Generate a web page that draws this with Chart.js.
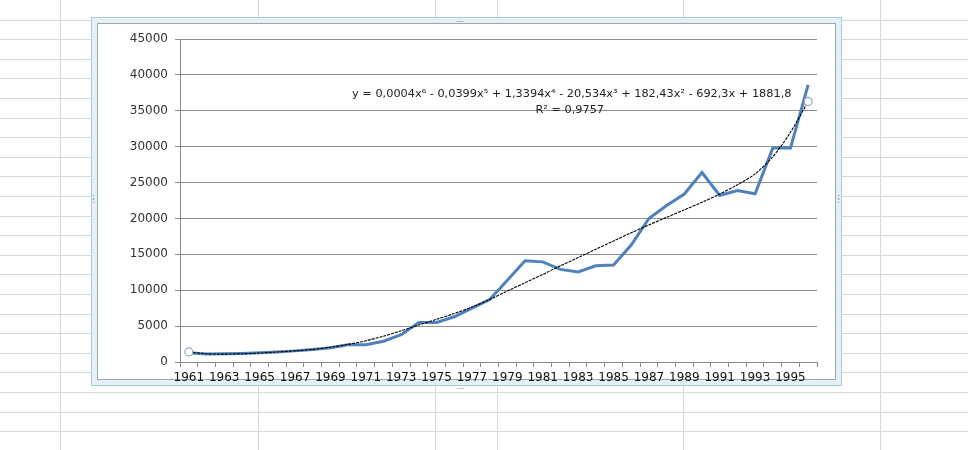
<!DOCTYPE html>
<html>
<head>
<meta charset="utf-8">
<title>1961-1996</title>
<script src="https://cdn.jsdelivr.net/npm/chart.js@4.4.1/dist/chart.umd.min.js"></script>
<style>
    html, body { margin: 0; padding: 0; }
    body { width: 968px; height: 450px; position: relative; overflow: hidden; background: #fff; }
    /* worksheet cells behind the chart */
    #sheet {
        position: absolute; left: 0; top: 0; width: 968px; height: 450px;
        background-image: repeating-linear-gradient(to bottom, transparent 0px, transparent 18.6px, #d4d9df 18.6px, #d4d9df 19.6px);
        background-position: 0 1px;
    }
    .vline { position: absolute; top: 0; width: 1px; height: 450px; background: #d4d9df; }
    #frame {
        position: absolute; left: 91px; top: 17px; width: 749px; height: 367px;
        border: 1px solid #a9cad6;
        box-shadow: inset 0 0 0 5px #e3f1f5, inset 0 0 0 6px #9aaab2;
        background: #fff;
    }
    .grip { position: absolute; font: 9px "DejaVu Sans", sans-serif; color: #7f9aa5; line-height: 6px; letter-spacing: -1px; }
    #chart { position: absolute; left: 0; top: 0; }
</style>
</head>
<body>
<div id="sheet"></div>
<div class="vline" style="left:60px"></div>
<div class="vline" style="left:258px"></div>
<div class="vline" style="left:435px"></div>
<div class="vline" style="left:497px"></div>
<div class="vline" style="left:683px"></div>
<div class="vline" style="left:880px"></div>
<div id="frame"></div>
<div class="grip" style="left:456px;top:16px">....</div>
<div class="grip" style="left:456px;top:383px">....</div>
<div class="grip" style="left:92px;top:196px;width:4px;line-height:3px">:<br>:</div>
<div class="grip" style="left:837px;top:196px;width:4px;line-height:3px">:<br>:</div>
<canvas id="chart" width="968" height="450"></canvas>
<script>
// years on the category axis
const years = ['1961', '1962', '1963', '1964', '1965', '1966', '1967', '1968', '1969', '1970',
    '1971', '1972', '1973', '1974', '1975', '1976', '1977', '1978', '1979', '1980',
    '1981', '1982', '1983', '1984', '1985', '1986', '1987', '1988', '1989', '1990',
    '1991', '1992', '1993', '1994', '1995', '1996'];

// yearly values (blue line)
const values = [1300, 1100, 1150, 1200, 1300, 1400, 1550, 1750, 2000, 2400,
    2400, 2900, 3800, 5500, 5500, 6300, 7500, 8700, 11400, 14100,
    13950, 12900, 12550, 13400, 13500, 16300, 20000, 21800, 23400, 26400,
    23200, 23900, 23450, 29800, 29800, 38600];

// 6th order polynomial trend (thin black line)
const trend = [1400, 1150, 1100, 1150, 1250, 1400, 1550, 1750, 2050, 2450,
    2950, 3600, 4350, 5150, 5950, 6750, 7650, 8700, 9900, 11050,
    12200, 13400, 14550, 15700, 16850, 18000, 19100, 20150, 21200, 22250,
    23400, 24700, 26200, 28600, 32000, 36300];

const yTicks = [0, 5000, 10000, 15000, 20000, 25000, 30000, 35000, 40000, 45000];

const trendLabel = 'y = 0,0004x\u2076 - 0,0399x\u2075 + 1,3394x\u2074 - 20,534x\u00b3 + 182,43x\u00b2 - 692,3x + 1881,8';
const r2Label = 'R\u00b2 = 0,9757';

// end handles of the trend line
const handleRadius = trend.map((v, i) => (i === 0 || i === trend.length - 1) ? 4 : 0);

// equation text next to the trend line
const trendText = {
    id: 'trendText',
    afterDatasetsDraw(chart) {
        const ctx = chart.ctx;
        const area = chart.chartArea;
        const x = area.left + (area.right - area.left) * 0.615;
        ctx.save();
        ctx.fillStyle = '#222';
        ctx.font = '11.3px "DejaVu Sans", sans-serif';
        ctx.textAlign = 'center';
        ctx.textBaseline = 'middle';
        ctx.fillText(trendLabel, x, area.top + 55);
        ctx.fillText(r2Label, x - 2, area.top + 71);
        ctx.restore();
    }
};

new Chart(document.getElementById('chart'), {
    type: 'line',
    data: {
        labels: years,
        datasets: [
            {
                label: 'trend',
                data: trend,
                borderColor: '#000000',
                borderWidth: 1.1,
                borderDash: [3, 1],
                pointRadius: handleRadius,
                pointBackgroundColor: '#ffffff',
                pointBorderColor: '#8fa6bb',
                pointBorderWidth: 1.2,
                tension: 0.3,
                fill: false
            },
            {
                label: 'values',
                data: values,
                borderColor: '#4f81bd',
                borderWidth: 3,
                pointRadius: 0,
                tension: 0,
                fill: false
            }
        ]
    },
    options: {
        responsive: false,
        animation: false,
        devicePixelRatio: 1,
        layout: { padding: { left: 100, top: 39, right: 151, bottom: 60 } },
        plugins: {
            legend: { display: false },
            tooltip: { enabled: false }
        },
        scales: {
            x: {
                offset: true,
                afterFit: function(scale) { scale.height = 28; },
                grid: {
                    offset: true,
                    drawOnChartArea: false,
                    drawTicks: true,
                    tickLength: 5,
                    color: '#8a8a8a'
                },
                border: { display: true, color: '#8a8a8a' },
                ticks: {
                    autoSkip: false,
                    maxRotation: 0,
                    padding: 4,
                    color: '#111',
                    font: { family: 'DejaVu Sans', size: 12 },
                    callback: function(value, index) {
                        return index % 2 === 0 ? years[index] : '';
                    }
                }
            },
            y: {
                min: 0,
                max: 45000,
                afterFit: function(scale) { scale.width = 80; },
                afterBuildTicks: function(scale) {
                    scale.ticks = yTicks.map(v => ({ value: v }));
                },
                grid: {
                    color: '#8e8e8e',
                    tickLength: 5
                },
                border: { display: true, color: '#8a8a8a' },
                ticks: {
                    padding: 7,
                    color: '#333',
                    font: { family: 'DejaVu Sans', size: 12 },
                    callback: function(value) { return String(value); }
                }
            }
        }
    },
    plugins: [trendText]
});
</script>
</body>
</html>
